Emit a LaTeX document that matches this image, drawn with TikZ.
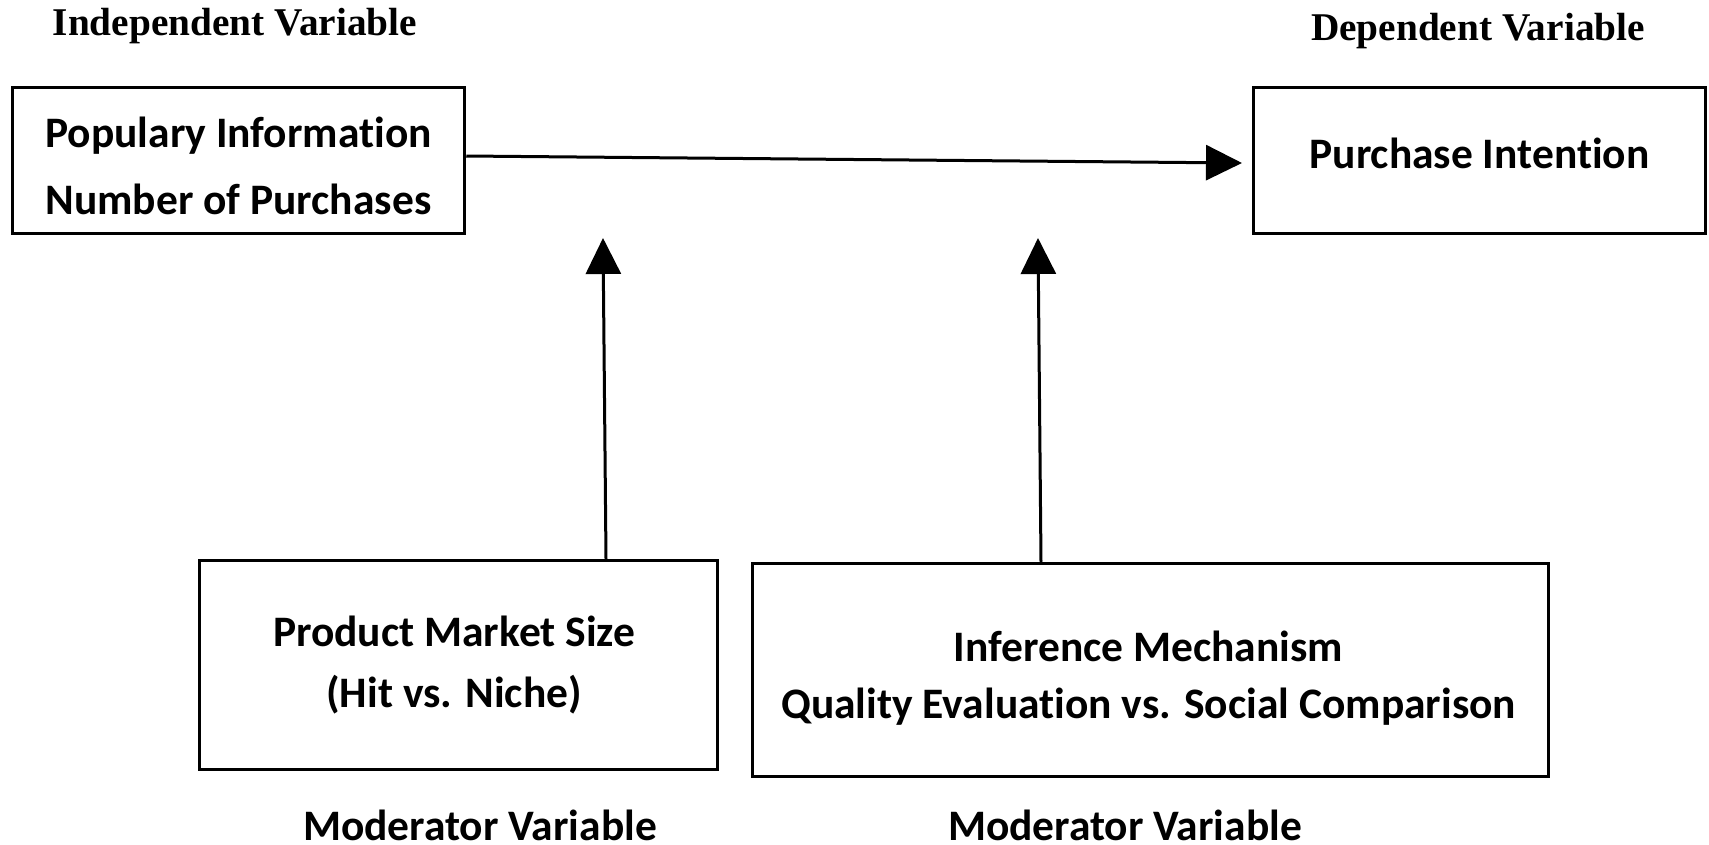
\documentclass[tikz,border=0pt]{standalone}
\usepackage{fontspec}
\setmainfont{Carlito}[Ligatures=NoCommon]
\newfontfamily\headfont{Liberation Serif}
\usetikzlibrary{arrows.meta,calc}
\begin{document}
\begin{tikzpicture}[x=1pt,y=-1pt,
  box/.style={draw,line width=3.5pt,inner sep=0pt},
  btext/.style={inner sep=0pt,align=center,font=\bfseries\fontsize{43.5}{67}\selectfont},
  head/.style={font=\headfont\bfseries\fontsize{39.3}{47}\selectfont,inner sep=0pt},
  modlab/.style={font=\bfseries\fontsize{43.5}{50}\selectfont,inner sep=0pt},
  arr/.style={line width=3pt,-{Triangle[length=36pt,width=35pt]}}]
\useasboundingbox (0,0) rectangle (1709,844);
\node[head] (hi) at (235,26) {Independent Variable};
\node[head] (hd) at (1478,31) {Dependent Variable};
\node[box,minimum width=452pt,minimum height=146pt] (b1) at (238.5,160.5) {};
\node[btext] (b1t) at ([yshift=-5.5pt]b1.center) {Populary Information\\Number of Purchases};
\node[box,minimum width=452pt,minimum height=146pt] (b2) at (1479.5,160.5) {};
\node[btext] (b2t) at ([yshift=7.6pt]b2.center) {Purchase Intention};
\node[box,minimum width=518pt,minimum height=209pt] (b3) at (458.5,665) {};
\node[btext,font=\bfseries\fontsize{43.5}{61}\selectfont] (b3t) at ([xshift=-4.4pt]b3.center) {Product Market Size\\(Hit vs. Niche)};
\node[box,minimum width=796pt,minimum height=213pt] (b4) at (1150.5,670) {};
\node[btext,font=\bfseries\fontsize{43.5}{57}\selectfont] (b4t) at ([xshift=-2pt,yshift=-8.5pt]b4.center) {Inference Mechanism\\Quality Evaluation vs. Social Comparison};
\node[modlab] (m1) at (480,825) {Moderator Variable};
\node[modlab] (m2) at (1125,825) {Moderator Variable};
\coordinate (t0) at (1242,163);
\coordinate (t1) at (603,238);
\coordinate (t2) at (1038,238);
\draw[arr] ([yshift=4.5pt]b1.east) -- (t0);
\draw[arr] ([xshift=147.5pt]b3.north) -- (t1);
\draw[arr] ([xshift=-109.5pt]b4.north) -- (t2);
\end{tikzpicture}
\end{document}
